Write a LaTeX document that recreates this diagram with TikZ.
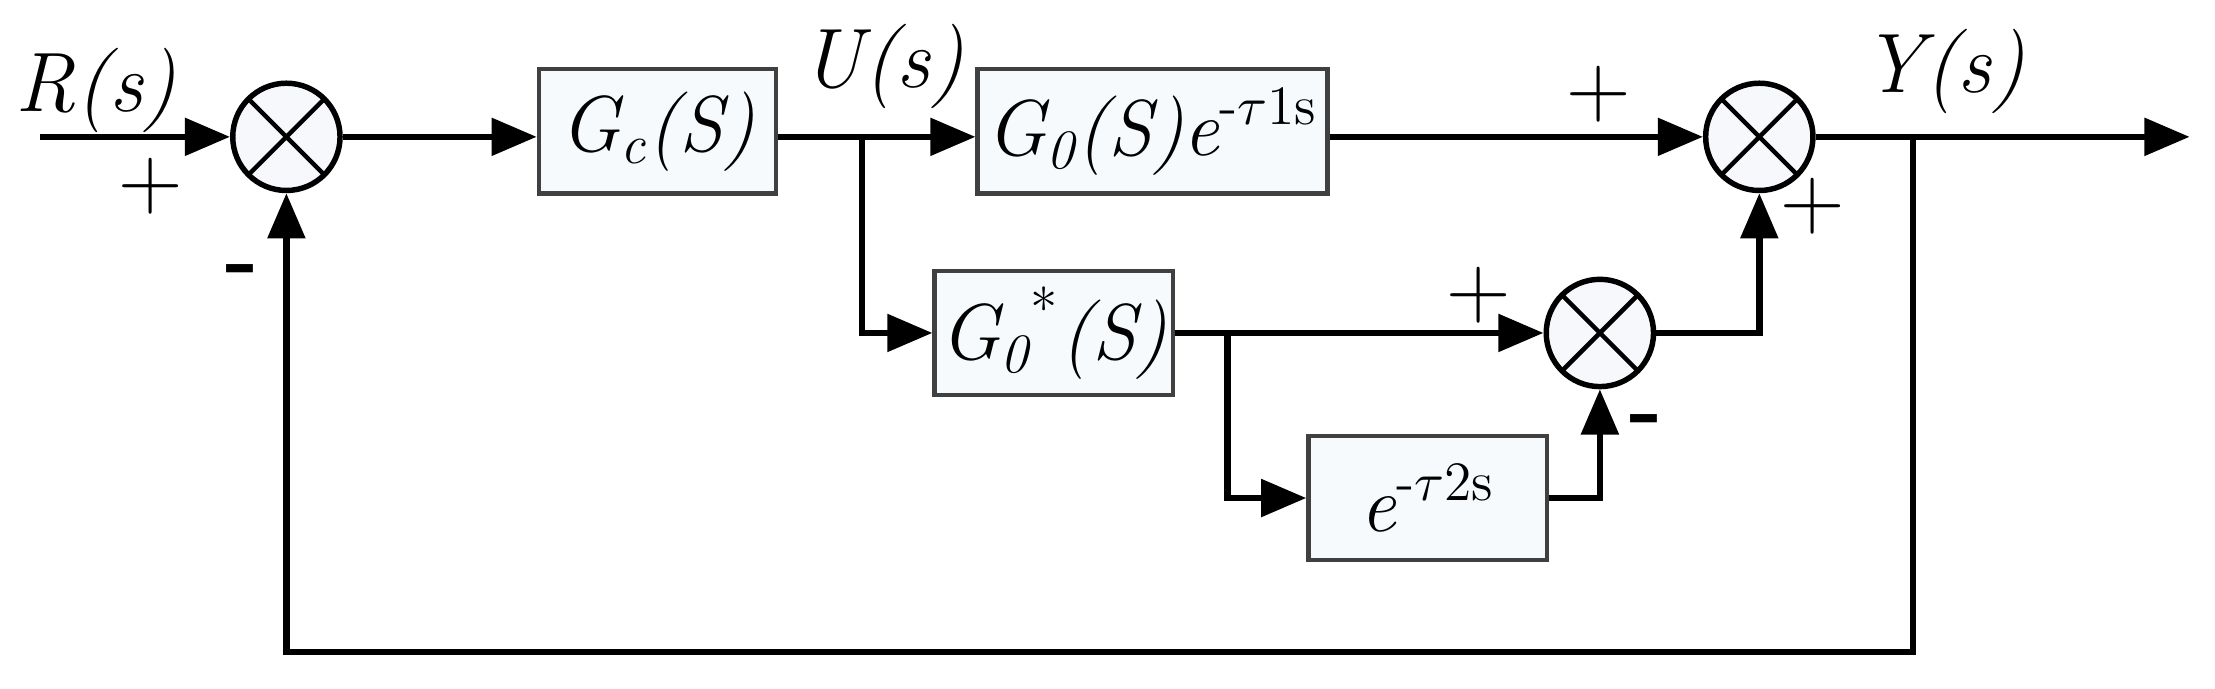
\documentclass[tikz,border=0pt]{standalone}
\usetikzlibrary{arrows.meta}
\begin{document}
\begin{tikzpicture}[x=0.01cm,y=-0.01cm,
  line width=1.3pt,
  arr/.style={-{Triangle[length=0.32cm,width=0.26cm]}},
  blk/.style={draw=black!75,line width=0.9pt,fill={rgb,255:red,246;green,250;blue,252},minimum width=#1*0.01cm,minimum height=0.88cm,inner sep=0pt,font=\fontsize{16}{18}\selectfont\itshape},
  sum/.style={draw,circle,line width=1.1pt,fill={rgb,255:red,246;green,248;blue,252},minimum size=0.76cm,inner sep=0pt,path picture={\draw[line width=0.9pt] (path picture bounding box.south west)--(path picture bounding box.north east) (path picture bounding box.north west)--(path picture bounding box.south east);}},
  lbl/.style={font=\fontsize{17}{19}\selectfont\itshape},
  sg/.style={font=\fontsize{18}{20}\selectfont}]
\useasboundingbox (0,0) rectangle (1570,488);
\coordinate (in) at (28,97);
\node[sum] (s1) at (203,97) {};
\node[blk=168] (gc) at (466,93) {G\textsubscript{c}(S)};
\node[blk=248] (g0) at (817,93) {G\textsubscript{0}(S)e\textsuperscript{\upshape -$\tau$1s}};
\node[sum] (s2) at (1247,97) {};
\node[blk=169] (g0s) at (747,236) {G\textsubscript{0}\textsuperscript{\upshape *}(S)};
\node[sum] (s3) at (1134,236) {};
\node[blk=169] (ed) at (1012,353) {e\textsuperscript{\upshape -$\tau$2s}};
\coordinate (u) at (611,97);
\coordinate (y) at (1356,97);
\coordinate (out) at (1552,97);
\coordinate (b2) at (870,236);
\draw[arr] (in) -- (s1.west);
\draw[arr] (s1.east) -- (gc.west|-s1);
\draw (gc.east|-s1) -- (u);
\draw[arr] (u) -- (g0.west|-s1);
\draw[arr] (g0.east|-s1) -- (s2.west);
\draw[arr] (s2.east) -- (out);
\draw[arr] (u) |- (g0s.west);
\draw[arr] (g0s.east) -- (s3.west);
\draw[arr] (b2) |- (ed.west);
\draw[arr] (ed.east) -| (s3.south);
\draw[arr] (s3.east) -| (s2.south);
\draw[arr] (y) |- (203,462) -- (s1.south);
\node[lbl] (R) at (68,64) {R(s)};
\node[lbl] (U) at (626,47) {U(s)};
\node[lbl] (Y) at (1378,51) {Y(s)};
\node[sg] (p1) at (107,132) {+};
\node[sg] (m1) at (172,196) {\textbf{-}};
\node[sg] (p2) at (1133,67) {+};
\node[sg] (p3) at (1285,146) {+};
\node[sg] (p4) at (1048,209) {+};
\node[sg] (m2) at (1167,302) {\textbf{-}};
\end{tikzpicture}
\end{document}
